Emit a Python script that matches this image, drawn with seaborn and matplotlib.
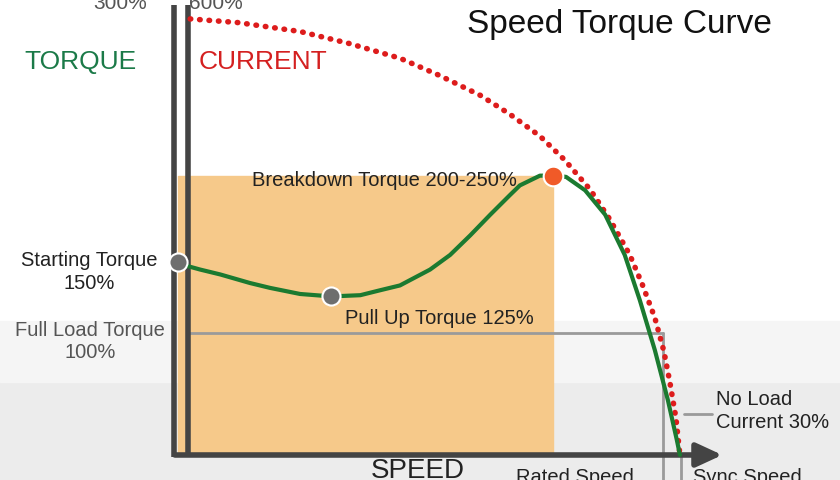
import numpy as np
import matplotlib
matplotlib.use("Agg")
import matplotlib.pyplot as plt
import seaborn as sns

sns.set_theme(style="white")
plt.rcParams['font.family'] = ['Liberation Sans', 'DejaVu Sans']

# speed in % of sync speed, torque in % of full load torque
torque_speed = [0, 4.4, 8.4, 14.3, 18.3, 24.3, 30.5, 36.3, 40.2, 44.2, 50.2, 54.2, 58.2, 62.2,
                66.1, 68.1, 72.1, 74.7, 77.3, 81.1, 85.1, 89.0, 92.0, 95.0, 97.6, 99.4, 100]
torque_pct = [157, 152, 148, 141, 137, 132, 130, 131, 135, 139, 152, 164, 180, 197,
              213, 221, 229, 229, 228, 217, 197, 164, 127, 86, 45, 12, 0]
# current in % of rated current
current_speed = [2.4, 12.0, 24.3, 34.0, 44.2, 52.0, 60.2, 66.0, 72.1, 77.0, 82.1, 86.0, 90.0, 92.5, 95.0, 96.8, 98.0, 99.2, 100]
current_pct = [588, 583, 571, 555, 535, 512, 485, 460, 430, 398, 358, 318, 270, 230, 185, 140, 98, 50, 0]
CUR_SCALE = 0.608  # current % -> torque axis units

start_pt = (0, 158)
pullup_pt = (30.5, 130)
breakdown_pt = (74.7, 229)
rated_speed = 96.6
full_load = 100

fig = plt.figure(figsize=(8.4, 4.8), dpi=100)
ax = fig.add_axes([0, 0, 1, 1])
ax.set_xlim(-35.5, 131.9)
ax.set_ylim(-20.5, 373)
ax.axis("off")

# bottom background shading
ax.axhspan(-20.5, 60, color="#ececec", zorder=0)
ax.axhspan(60, 110, color="#f5f5f5", zorder=0)

# operating region
ax.fill_between([0, breakdown_pt[0]], 2, breakdown_pt[1], color="#f6c98a", zorder=1)

# reference lines
gray = "#9a9a9a"
ax.plot([2, rated_speed], [full_load, full_load], color=gray, lw=2, zorder=2)
ax.plot([rated_speed, rated_speed], [full_load, -20.5], color=gray, lw=2, zorder=2)
ax.plot([100.3, 100.3], [0, -20.5], color=gray, lw=2, zorder=2)
ax.plot([100.8, 106.3], [34, 34], color=gray, lw=2, zorder=2)

# axes bars
dark = "#444444"
ax.plot([-0.8, -0.8], [-2, 369], color=dark, lw=4, solid_capstyle="butt", zorder=3)
ax.plot([2.0, 2.0], [-2, 369], color=dark, lw=4, solid_capstyle="butt", zorder=3)
ax.annotate("", xy=(109, 0), xytext=(-1.2, 0),
            arrowprops=dict(arrowstyle="-|>,head_length=1.3,head_width=0.6", color=dark, lw=4), zorder=3)

# curves
sns.lineplot(x=np.array(current_speed), y=np.array(current_pct) * CUR_SCALE, ax=ax,
             color="#dd1c1c", lw=4, linestyle=(0, (0.1, 1.6)), dash_capstyle="round",
             sort=False, estimator=None, zorder=4)
sns.lineplot(x=torque_speed, y=torque_pct, ax=ax, color="#1b7a30", lw=3,
             sort=False, estimator=None, zorder=5)

ax.scatter(*start_pt, s=170, color="#6e6e6e", edgecolor="white", lw=1.5, zorder=6)
ax.scatter(*pullup_pt, s=170, color="#6e6e6e", edgecolor="white", lw=1.5, zorder=6)
ax.scatter(*breakdown_pt, s=200, color="#f05a28", edgecolor="white", lw=1.5, zorder=6)

# texts
tc = "#555555"
ax.text(-11.5, 370, "300%", color=tc, fontsize=15, ha="center", va="center")
ax.text(7.5, 370, "600%", color=tc, fontsize=15, ha="center", va="center")
ax.text(-19.5, 322, "TORQUE", color="#1b7a48", fontsize=19, ha="center", va="center")
ax.text(4, 322, "CURRENT", color="#d42020", fontsize=19, ha="left", va="center")
ax.text(88, 353, "Speed Torque Curve", color="#111111", fontsize=24, ha="center", va="center")
ax.text(41.2, 225, "Breakdown Torque 200-250%", color="#222222", fontsize=14.5, ha="center", va="center")
ax.text(-17.8, 150, "Starting Torque\n150%", color="#222222", fontsize=14.5, ha="center", va="center",
        linespacing=1.25)
ax.text(33.3, 112, "Pull Up Torque 125%", color="#222222", fontsize=14.5, ha="left", va="center")
ax.text(-17.5, 93, "Full Load Torque\n100%", color=tc, fontsize=14.5, ha="center", va="center",
        linespacing=1.25)
ax.text(107.1, 36, "No Load\nCurrent 30%", color="#222222", fontsize=14.5, ha="left", va="center",
        linespacing=1.25)
ax.text(47.8, -24, "SPEED", color="#222222", fontsize=20, ha="center", va="bottom")
ax.text(79, -26.5, "Rated Speed", color="#222222", fontsize=14.5, ha="center", va="bottom")
ax.text(113.5, -26.5, "Sync Speed", color="#222222", fontsize=14.5, ha="center", va="bottom")

fig.savefig("out.png", dpi=100)
